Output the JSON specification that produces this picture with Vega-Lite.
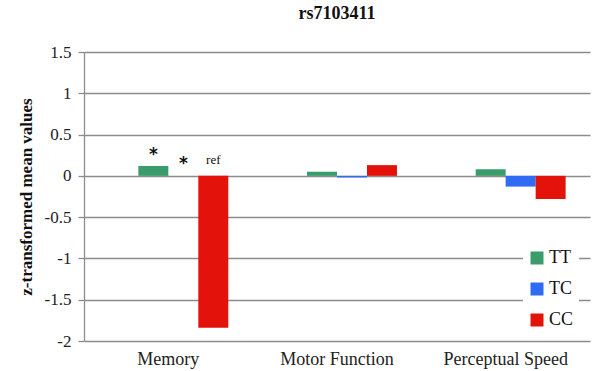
{
  "$schema": "https://vega.github.io/schema/vega-lite/v6.json",
  "autosize": "none",
  "width": 506,
  "height": 289,
  "padding": {"left": 84, "top": 52, "right": 2, "bottom": 30},
  "background": "white",
  "title": {"text": "rs7103411", "font": "Liberation Serif", "fontSize": 18, "fontWeight": "bold", "color": "#111", "offset": 20, "anchor": "middle"},
  "config": {
    "view": {"stroke": null},
    "font": "Liberation Serif",
    "axis": {"labelFont": "Liberation Serif", "titleFont": "Liberation Serif", "labelColor": "#222"},
    "axisX": {"labelFontSize": 18, "labelPadding": 9, "domain": false, "ticks": false, "grid": false, "labelAngle": 0},
    "axisY": {"labelFontSize": 17, "labelPadding": 7, "titleFontSize": 17, "titleFontWeight": "bold", "titleColor": "#111", "titlePadding": 9,
      "grid": true, "gridColor": "#8c8c8c", "gridWidth": 1.3, "domainColor": "#8c8c8c", "domainWidth": 1.3,
      "tickColor": "#8c8c8c", "tickSize": 6, "tickWidth": 1.3},
    "legend": {"labelFont": "Liberation Serif", "labelFontSize": 18}
  },
  "datasets": {
    "bars": [
      {"category": "Memory", "genotype": "TT", "value": 0.12},
      {"category": "Memory", "genotype": "TC", "value": 0.0},
      {"category": "Memory", "genotype": "CC", "value": -1.84},
      {"category": "Motor Function", "genotype": "TT", "value": 0.05},
      {"category": "Motor Function", "genotype": "TC", "value": -0.02},
      {"category": "Motor Function", "genotype": "CC", "value": 0.13},
      {"category": "Perceptual Speed", "genotype": "TT", "value": 0.08},
      {"category": "Perceptual Speed", "genotype": "TC", "value": -0.13},
      {"category": "Perceptual Speed", "genotype": "CC", "value": -0.28}
    ],
    "notes": [
      {"category": "Memory", "genotype": "TT", "value": 0.25, "label": "*"},
      {"category": "Memory", "genotype": "TC", "value": 0.14, "label": "*"},
      {"category": "Memory", "genotype": "CC", "value": 0.19, "label": "ref"}
    ]
  },
  "encoding": {
    "x": {"field": "category", "type": "nominal", "sort": ["Memory", "Motor Function", "Perceptual Speed"],
      "scale": {"paddingInner": 0.289, "paddingOuter": 0.1445},
      "axis": {"title": null}},
    "xOffset": {"field": "genotype", "type": "nominal", "scale": {"domain": ["pad", "TT", "TC", "CC"], "paddingInner": 0, "paddingOuter": 0}},
    "y": {"field": "value", "type": "quantitative",
      "scale": {"domain": [-2, 1.5], "nice": false, "zero": false},
      "axis": {"title": "z-transformed mean values", "values": [-2, -1.5, -1, -0.5, 0, 0.5, 1, 1.5],
        "labelExpr": "datum.value < 0 ? '-' + format(-datum.value, '~g') : format(datum.value, '~g')"}}
  },
  "layer": [
    {
      "data": {"name": "bars"},
      "mark": {"type": "bar"},
      "encoding": {
        "color": {"field": "genotype", "type": "nominal",
          "scale": {"domain": ["TT", "TC", "CC"], "range": ["#3A9C6A", "#2F6BF5", "#E3120B"]},
          "legend": {"title": null, "orient": "none", "legendX": 439, "legendY": 192, "direction": "vertical",
            "symbolType": "square", "symbolSize": 169, "symbolStrokeWidth": 0, "symbolOpacity": 1,
            "labelColor": "#111", "labelOffset": 3,
            "rowPadding": 13, "padding": 5, "fillColor": "white"}}
      }
    },
    {
      "data": {"name": "notes"},
      "mark": {"type": "text", "font": "DejaVu Sans", "baseline": "middle", "color": "#111", "fontWeight": "bold", "fontSize": 17},
      "transform": [{"filter": "datum.label === '*'"}],
      "encoding": {"text": {"field": "label"}}
    },
    {
      "data": {"name": "notes"},
      "mark": {"type": "text", "font": "Liberation Serif", "baseline": "middle", "color": "#111", "fontSize": 13},
      "transform": [{"filter": "datum.label === 'ref'"}],
      "encoding": {"text": {"field": "label"}}
    }
  ]
}
